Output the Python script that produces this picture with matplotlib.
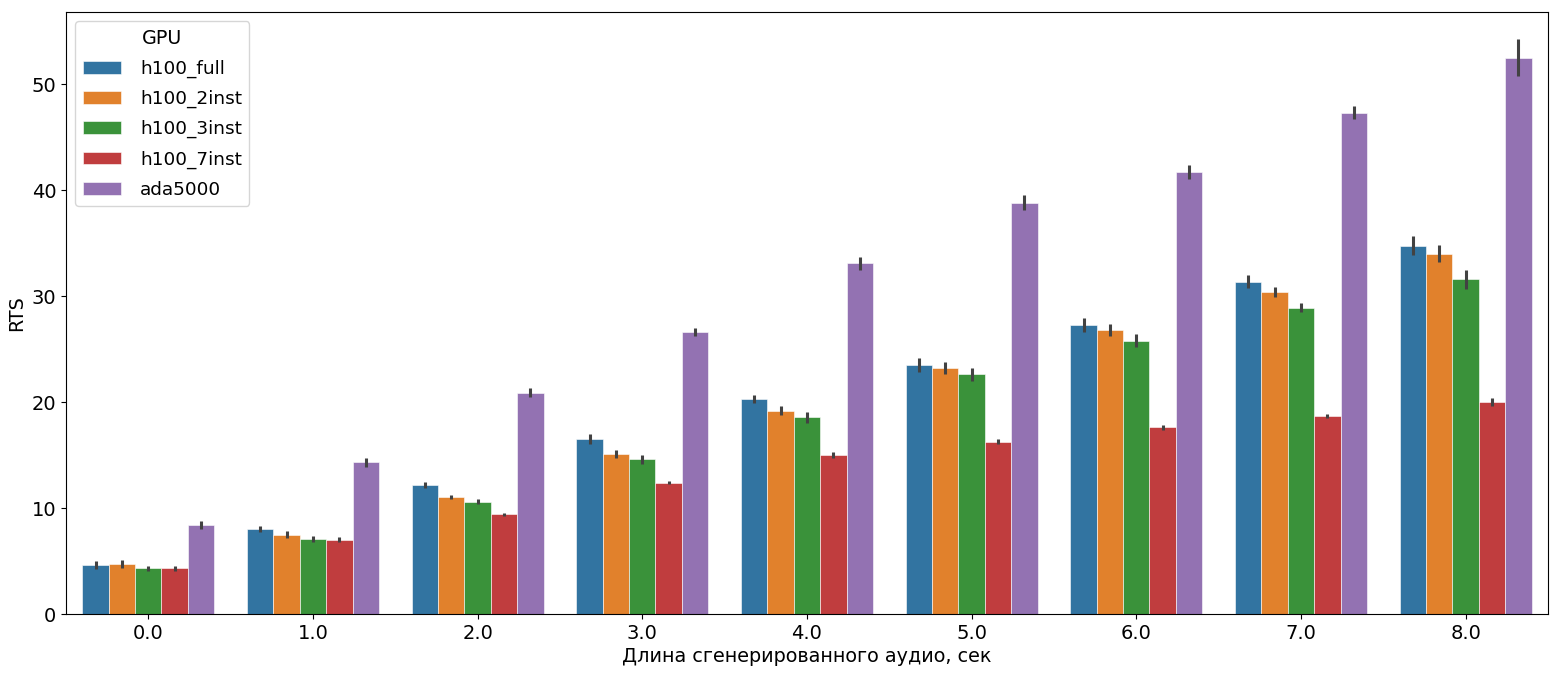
import numpy as np
import matplotlib
matplotlib.use("Agg")
import matplotlib.pyplot as plt

categories = ["0.0", "1.0", "2.0", "3.0", "4.0", "5.0", "6.0", "7.0", "8.0"]
series_names = ["h100_full", "h100_2inst", "h100_3inst", "h100_7inst", "ada5000"]

h100_full  = [4.6, 8.0, 12.2, 16.5, 20.3, 23.5, 27.3, 31.35, 34.75]
h100_2inst = [4.7, 7.5, 11.07, 15.1, 19.2, 23.2, 26.8, 30.4, 34.0]
h100_3inst = [4.3, 7.05, 10.6, 14.6, 18.55, 22.6, 25.8, 28.9, 31.6]
h100_7inst = [4.3, 7.0, 9.4, 12.4, 15.0, 16.25, 17.6, 18.7, 20.0]
ada5000    = [8.4, 14.3, 20.9, 26.6, 33.1, 38.8, 41.7, 47.3, 52.5]

err_full  = [0.4, 0.3, 0.3, 0.45, 0.4, 0.7, 0.65, 0.6, 0.9]
err_2inst = [0.35, 0.3, 0.2, 0.35, 0.4, 0.55, 0.55, 0.5, 0.8]
err_3inst = [0.25, 0.3, 0.25, 0.4, 0.55, 0.65, 0.65, 0.45, 0.9]
err_7inst = [0.25, 0.25, 0.15, 0.15, 0.3, 0.25, 0.2, 0.2, 0.4]
err_ada   = [0.4, 0.45, 0.4, 0.35, 0.6, 0.7, 0.7, 0.6, 1.75]

values = [h100_full, h100_2inst, h100_3inst, h100_7inst, ada5000]
errors = [err_full, err_2inst, err_3inst, err_7inst, err_ada]
colors = ["#3274a1", "#e1812c", "#3a923a", "#c03d3e", "#9372b2"]

fig = plt.figure(figsize=(15.6, 6.76), dpi=100)
ax = fig.add_axes([0.0423, 0.0917, 0.9500, 0.8905])

x = np.arange(len(categories))
n = len(series_names)
w = 0.8 / n
for i, (name, vals, errs, c) in enumerate(zip(series_names, values, errors, colors)):
    pos = x - 0.4 + w * (i + 0.5)
    ax.bar(pos, vals, width=w, color=c, label=name, edgecolor="white", linewidth=0.4)
    ax.errorbar(pos, vals, yerr=errs, fmt="none", ecolor="#424242", elinewidth=2.2, capsize=0)

ax.set_xlim(-0.5, 8.5)
ax.set_ylim(0, 56.8)
ax.set_xticks(x)
ax.set_xticklabels(categories)
ax.set_yticks([0, 10, 20, 30, 40, 50])
ax.tick_params(labelsize=14)
ax.set_xlabel("Длина сгенерированного аудио, сек", fontsize=13.8, labelpad=3)
ax.set_ylabel("RTS", fontsize=13.8)
leg = ax.legend(title="GPU", loc="upper left", fontsize=13.3, title_fontsize=13.8,
                labelspacing=0.65, handletextpad=1.0, handlelength=2.1)

fig.savefig("out.png", dpi=100)
